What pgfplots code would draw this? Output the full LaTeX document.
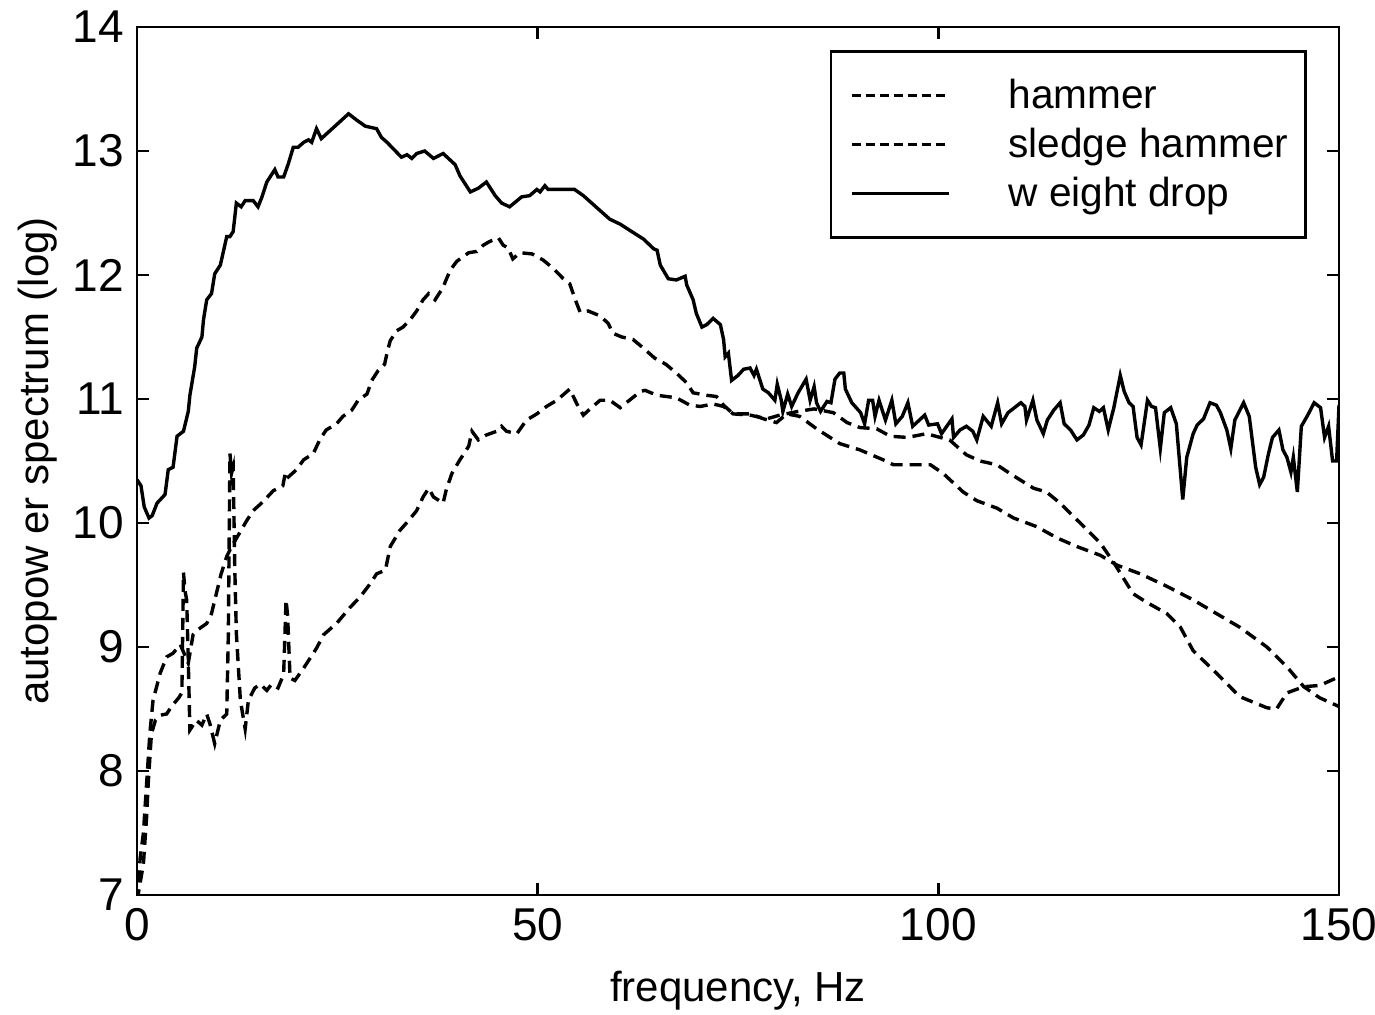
\documentclass[border=0pt]{standalone}
\usepackage{fontspec}
\setmainfont{Liberation Sans}
\usepackage{pgfplots}
\pgfplotsset{compat=1.18}
\pgfplotsset{dashleg/.style={legend image code/.code={\path (-3pt,0pt); \draw[##1, line width=1.4pt, dash pattern=on 4.5pt off 2.5pt] (0pt,0pt) -- (48.5pt,0pt);}}}

% weight drop (solid)
\pgfplotstableread{
f v
0 10.35
0.5 10.30
0.9 10.13
1.5 10.04
1.9 10.06
2.5 10.16
3.5 10.23
3.9 10.43
4.5 10.45
5.0 10.70
5.8 10.74
6.4 10.90
6.6 11.03
7.2 11.26
7.45 11.41
8.1 11.50
8.3 11.64
8.7 11.80
9.3 11.85
9.7 12.01
10.4 12.08
11.2 12.31
11.6 12.31
12.0 12.35
12.4 12.58
13.0 12.55
13.5 12.60
14.5 12.60
15.1 12.55
15.6 12.63
16.2 12.75
16.6 12.79
17.2 12.85
17.6 12.79
18.3 12.79
18.9 12.90
19.5 13.03
20.1 13.03
20.8 13.07
21.4 13.09
21.8 13.07
22.4 13.18
23.0 13.10
26.4 13.30
27.4 13.25
28.5 13.20
29.9 13.18
30.5 13.11
31.2 13.07
31.8 13.03
33.0 12.95
33.7 12.97
34.3 12.94
34.9 12.98
35.9 13.00
37.0 12.94
38.2 12.98
39.7 12.89
40.3 12.80
41.6 12.67
42.6 12.70
43.6 12.75
44.7 12.64
45.5 12.58
46.5 12.55
48.0 12.63
49.0 12.64
49.9 12.69
50.3 12.67
50.9 12.72
51.3 12.69
54.6 12.69
55.7 12.64
59.0 12.45
60.3 12.41
61.5 12.36
63.2 12.29
64.5 12.21
64.9 12.20
65.3 12.08
66.3 11.97
67.3 11.96
68.4 11.99
68.6 11.92
69.4 11.80
69.8 11.69
70.5 11.58
71.1 11.60
71.9 11.65
72.8 11.60
73.2 11.48
73.4 11.34
73.8 11.37
74.2 11.15
75.0 11.19
75.7 11.24
76.5 11.25
77.0 11.19
77.3 11.24
78.1 11.08
78.8 11.05
79.6 10.99
79.9 11.12
80.4 10.99
80.6 10.90
81.2 11.04
81.7 10.94
82.5 11.05
83.5 11.16
84.0 10.99
84.5 11.10
84.8 10.97
85.3 10.90
86.1 10.98
86.6 10.97
87.1 11.16
87.7 11.21
88.2 11.21
88.4 11.08
89.2 10.97
90.3 10.89
90.8 10.80
91.3 10.99
91.8 10.99
92.1 10.86
92.6 10.99
93.4 10.83
94.2 10.99
94.7 10.80
95.5 10.86
96.2 10.97
96.8 10.78
98.3 10.87
98.8 10.79
99.9 10.80
100.4 10.72
101.7 10.84
101.9 10.69
102.7 10.75
103.5 10.78
104.3 10.74
104.8 10.67
105.6 10.86
106.6 10.78
107.4 10.97
107.9 10.80
108.7 10.89
110.3 10.97
110.8 10.94
111.0 10.83
111.8 10.99
112.3 10.83
113.1 10.72
113.6 10.83
114.4 10.91
115.2 10.97
115.7 10.80
116.5 10.75
117.3 10.67
118.1 10.71
118.8 10.79
119.4 10.93
120.1 10.90
120.6 10.93
121.2 10.75
121.9 10.93
122.7 11.19
123.2 11.06
123.8 10.97
124.3 10.94
124.8 10.69
125.3 10.63
126.1 10.99
126.6 10.94
127.1 10.93
127.7 10.60
128.2 10.89
129.0 10.93
129.7 10.80
130.5 10.19
131.0 10.53
131.8 10.72
132.3 10.79
133.1 10.84
133.9 10.97
134.7 10.95
135.2 10.89
136.0 10.75
136.5 10.60
137.0 10.83
138.1 10.97
138.8 10.86
139.6 10.45
140.1 10.31
140.6 10.37
141.2 10.56
141.7 10.69
142.5 10.75
143.0 10.59
143.5 10.53
144.0 10.41
144.3 10.53
144.8 10.25
145.3 10.78
146.1 10.87
146.9 10.97
147.7 10.93
148.2 10.69
148.7 10.78
149.2 10.50
149.7 10.50
150.0 10.95
}\weightdrop

% sledge hammer (dashed, higher peak)
\pgfplotstableread{
f v
0 6.95
0.4 7.30
0.8 7.50
1.2 7.90
1.6 8.30
2.0 8.57
2.9 8.79
3.7 8.92
4.5 8.95
5.4 9.02
6.4 8.87
7.0 9.10
7.6 9.14
8.7 9.19
9.3 9.27
9.9 9.43
10.5 9.59
11.2 9.73
11.8 9.81
12.8 9.92
13.7 10.02
14.5 10.10
15.7 10.17
17.0 10.26
18.2 10.30
18.5 10.40
18.7 10.36
19.9 10.43
20.8 10.51
22.0 10.56
22.8 10.67
23.6 10.75
24.9 10.80
25.7 10.86
26.8 10.91
27.6 10.99
28.7 11.04
29.3 11.15
30.1 11.23
30.9 11.28
31.2 11.37
31.6 11.47
32.4 11.55
33.2 11.58
34.1 11.64
34.9 11.71
35.7 11.80
36.4 11.85
37.2 11.80
38.2 11.90
38.5 11.95
39.1 12.04
39.9 12.11
41.4 12.18
42.4 12.19
43.2 12.24
44.0 12.27
45.1 12.30
45.7 12.24
46.3 12.22
46.9 12.13
47.8 12.18
49.3 12.17
50.7 12.12
52.0 12.05
53.2 11.97
54.0 11.93
54.7 11.80
55.3 11.70
56.3 11.71
57.8 11.67
58.8 11.61
59.4 11.53
60.5 11.50
61.9 11.48
63.2 11.41
64.6 11.33
66.0 11.28
67.3 11.21
68.6 11.13
69.4 11.05
71.1 11.03
72.3 11.02
73.2 10.95
74.4 10.88
76.5 10.88
78.2 10.84
79.8 10.81
81.1 10.88
82.7 10.86
84.8 10.76
87.7 10.64
90.2 10.59
93.1 10.51
94.4 10.47
99.0 10.47
100.6 10.40
103.1 10.25
104.8 10.18
107.3 10.12
109.4 10.04
112.3 9.97
114.8 9.88
117.3 9.81
120.2 9.74
122.3 9.66
125.2 9.59
128.5 9.49
131.8 9.38
134.7 9.27
137.6 9.16
141.0 9.00
143.5 8.84
145.6 8.68
147.6 8.59
150.0 8.52
}\sledge

% hammer (dashed, lower peak)
\pgfplotstableread{
f v
0 6.95
0.8 7.25
1.2 7.63
1.4 7.90
1.8 8.30
2.3 8.41
2.9 8.45
3.7 8.46
4.3 8.52
5.2 8.59
5.6 8.63
5.8 9.60
6.0 9.45
6.2 9.38
6.4 8.89
6.6 8.33
7.4 8.41
8.1 8.37
8.7 8.46
9.1 8.38
9.7 8.22
10.4 8.41
11.2 8.46
11.4 9.11
11.6 10.56
11.8 10.40
12.0 10.45
12.2 9.64
12.4 9.11
12.9 8.57
13.5 8.34
13.9 8.57
14.7 8.67
15.4 8.70
16.2 8.65
16.8 8.70
17.6 8.67
18.3 8.78
18.6 9.38
18.8 9.25
19.1 8.75
19.7 8.73
20.8 8.83
21.6 8.91
22.4 8.99
23.3 9.10
24.9 9.19
26.6 9.32
27.8 9.40
29.1 9.51
29.9 9.59
31.0 9.62
31.6 9.81
32.8 9.94
33.9 10.02
34.9 10.10
35.7 10.21
36.4 10.28
37.0 10.21
38.2 10.16
38.6 10.27
39.3 10.40
40.3 10.51
41.4 10.62
41.8 10.74
42.6 10.67
43.6 10.71
44.9 10.74
45.5 10.78
46.1 10.74
47.4 10.72
48.6 10.83
49.9 10.88
51.1 10.94
52.4 10.99
54.0 11.08
54.9 10.96
55.7 10.87
56.7 10.93
57.8 10.99
59.0 10.99
60.3 10.93
62.8 11.06
63.4 11.07
64.9 11.03
67.3 11.01
69.0 10.95
70.3 10.94
71.9 10.96
73.2 10.94
74.4 10.88
76.5 10.87
78.6 10.84
80.2 10.87
82.5 10.90
84.5 10.92
86.9 10.89
88.6 10.81
90.2 10.77
92.3 10.76
94.0 10.70
96.1 10.69
98.5 10.72
101.4 10.67
103.5 10.55
105.2 10.50
107.3 10.47
109.4 10.38
111.9 10.28
113.5 10.25
115.2 10.16
117.7 10.00
120.2 9.84
121.9 9.68
124.3 9.43
126.0 9.36
128.5 9.27
130.2 9.16
131.8 8.97
134.7 8.79
137.6 8.60
141.0 8.51
142.2 8.50
143.5 8.63
145.6 8.68
147.6 8.69
150.0 8.76
}\hammer

\begin{document}
\begin{tikzpicture}
\useasboundingbox (-68.5pt,-59.5pt) rectangle (619pt,447.5pt);
\begin{axis}[
    scale only axis,
    width=601pt, height=434pt,
    xmin=0, xmax=150, ymin=7, ymax=14,
    xtick={0,50,100,150},
    ytick={7,8,...,14},
    axis line style={line width=1.3pt},
    major tick style={line width=1.3pt, black},
    major tick length=6pt,
    tick align=inside,
    tick label style={font=\fontsize{23}{26}\selectfont},
    /pgf/number format/assume math mode=true,
    xticklabel style={yshift=-3pt},
    yticklabel style={xshift=-3pt},
    label style={font=\fontsize{21}{25}\selectfont},
    xlabel={frequency, Hz},
    ylabel={autopow er spectrum (log)},
    xlabel style={at={(axis description cs:0.5,-0.11)}, anchor=center},
    ylabel style={at={(axis description cs:-0.083,0.5)}, anchor=center},
    legend cell align=left,
    legend style={at={(0.973,0.9735)}, anchor=north east,
        draw=black, line width=1.3pt,
        inner xsep=6.5pt, inner ysep=9.75pt,
        row sep=0pt,
        font=\fontsize{20.3}{24}\selectfont,
        nodes={text height=17pt, text depth=3.5pt, inner sep=2pt},
        /tikz/every odd column/.append style={column sep=27pt}},
    legend image code/.code={\path (-3pt,0pt); \draw[#1] (0pt,0pt) -- (48.5pt,0pt);},
]
\addplot[black, line width=1.7pt, dash pattern=on 6pt off 3.5pt, dashleg]
    table[x=f, y=v] {\hammer};
\addlegendentry{hammer}
\addplot[black, line width=1.7pt, dash pattern=on 6pt off 3.5pt, dashleg]
    table[x=f, y=v] {\sledge};
\addlegendentry{sledge hammer}
\addplot[black, line width=1.7pt] table[x=f, y=v] {\weightdrop};
\addlegendentry{w eight drop}
\end{axis}
\end{tikzpicture}
\end{document}
